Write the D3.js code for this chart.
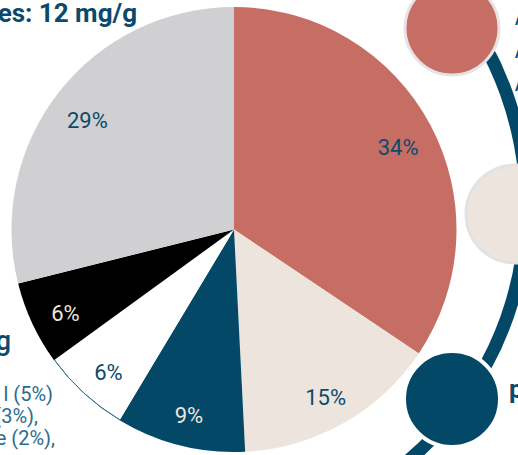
<!DOCTYPE html>
<html>
<head>
<meta charset="utf-8">
<script src="https://cdn.jsdelivr.net/npm/d3@7"></script>
<style>
  html, body { margin: 0; padding: 0; background: #fff; overflow: hidden; }
  svg { display: block; font-family: Roboto, "Noto Sans", sans-serif; }
</style>
</head>
<body>
<div id="chart"></div>
<script>
// Slice data (clockwise from 12 o'clock)
const categories = ["a", "b", "c", "d", "e", "f"];
const shares = [34.4, 14.8, 9.4, 6.4, 6.1, 28.9];
const sliceColors = ["#c76e64", "#ede5dd", "#034866", "#ffffff", "#000000", "#d0cfd1"];
const labelColors = ["#0b4a6a", "#0b4a6a", "#ede5dd", "#0b4a6a", "#ede5dd", "#0b4a6a"];

// Text fragments visible at the crop edges
const titleText = "es: 12 mg/g";
const sideLines = ["l (5%)", "(3%),", "e (2%),"];

function init() {
    const width = 518;
    const height = 455;
    const darkBlue = "#0b4a6a";

    const svg = d3.select("#chart").append("svg")
                  .attr("width", width)
                  .attr("height", height);

    // Big connector arc behind the round badges
    const ring = d3.path();
    const rc = [192, 206], rr = 334;
    ring.arc(rc[0], rc[1], rr, -45 * Math.PI / 180, 62 * Math.PI / 180);
    svg.append("path")
       .attr("d", ring.toString())
       .attr("fill", "none")
       .attr("stroke", "#034866")
       .attr("stroke-width", 13);

    // Round badges
    svg.append("circle").attr("cx", 452).attr("cy", 28).attr("r", 47)
       .attr("fill", "#c76e64").attr("stroke", "#e4e4e4").attr("stroke-width", 3);
    svg.append("circle").attr("cx", 515).attr("cy", 214).attr("r", 49)
       .attr("fill", "#ede5dd").attr("stroke", "#e2e2e4").attr("stroke-width", 3);
    svg.append("circle").attr("cx", 452).attr("cy", 399).attr("r", 48)
       .attr("fill", "#034866").attr("stroke", "#fff").attr("stroke-width", 4);

    // Pie
    const cx = 234, cy = 229.5, radius = 222.5;
    const g = svg.append("g").attr("transform", `translate(${cx},${cy})`);

    const pie = d3.pie().sort(null).value(d => d.value);
    const arcs = pie(categories.map((c, i) => ({ key: c, value: shares[i], i: i })));

    const arc = d3.arc().innerRadius(0).outerRadius(radius);
    const labelArc = d3.arc().innerRadius(186).outerRadius(186);

    g.selectAll("path.slice")
     .data(arcs)
     .enter()
     .append("path")
     .attr("class", "slice")
     .attr("d", arc)
     .attr("fill", d => sliceColors[d.data.i]);

    // thin outline on the white slice's outer edge
    const white = arcs[3];
    g.append("path")
     .attr("d", d3.arc().innerRadius(radius - 0.5).outerRadius(radius - 0.5)
                  .startAngle(white.startAngle).endAngle(white.endAngle)())
     .attr("fill", "none")
     .attr("stroke", "#3a7494")
     .attr("stroke-width", 1);

    g.selectAll("text.pct")
     .data(arcs)
     .enter()
     .append("text")
     .attr("class", "pct")
     .attr("transform", d => `translate(${labelArc.centroid(d)})`)
     .attr("text-anchor", "middle")
     .attr("dy", "0.6em")
     .attr("font-size", 22)
     .attr("fill", d => labelColors[d.data.i])
     .text(d => Math.round(d.data.value) + "%");

    // Title fragment (cut at the left edge)
    svg.append("text")
       .attr("x", 137).attr("y", 22)
       .attr("text-anchor", "end")
       .attr("font-size", 26)
       .attr("font-weight", 700)
       .attr("fill", darkBlue)
       .text(titleText);

    // Left-side fragments
    svg.append("text")
       .attr("x", 11).attr("y", 350)
       .attr("text-anchor", "end")
       .attr("font-size", 27)
       .attr("font-weight", 500)
       .attr("fill", darkBlue)
       .text("g");

    svg.selectAll("text.side")
       .data(sideLines)
       .enter()
       .append("text")
       .attr("class", "side")
       .attr("x", (d, i) => [53, 38, 55][i])
       .attr("y", (d, i) => 401 + i * 22)
       .attr("text-anchor", "end")
       .attr("font-size", 20)
       .attr("font-weight", 400)
       .attr("fill", "#2d6c8c")
       .text(d => d);

    // Right-side fragments
    [25, 58, 91].forEach(y => {
        svg.append("text")
           .attr("x", 515).attr("y", y)
           .attr("font-size", 14)
           .attr("font-weight", 700)
           .attr("fill", darkBlue)
           .text("A");
    });
    svg.append("text")
       .attr("x", 509).attr("y", 398)
       .attr("font-size", 26)
       .attr("font-weight", 700)
       .attr("fill", darkBlue)
       .text("p");
}

window.onload = init;
</script>
</body>
</html>
